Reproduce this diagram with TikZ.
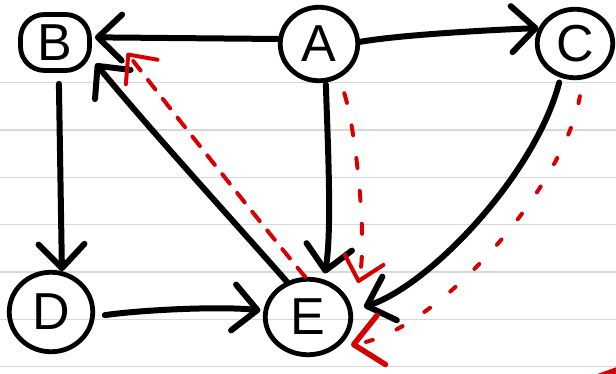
\documentclass[tikz,border=0pt]{standalone}
\usepackage{fontspec}
\setmainfont{Liberation Sans}
\usetikzlibrary{arrows.meta,shapes.geometric}
\definecolor{penRed}{RGB}{213,0,0}
\definecolor{ruleGray}{RGB}{216,216,216}

\begin{document}
\begin{tikzpicture}[x=1pt,y=-1pt,
  ruling/.style={draw=ruleGray,line width=1.6pt},
  vertex/.style={draw,line width=4.8pt,ellipse,inner sep=0pt,
    font=\fontsize{52}{52}\selectfont},
  edge/.style={line width=6pt,line cap=round,line join=round,
    -{Straight Barb[length=24pt,width=46pt,round]}},
  hint/.style={draw=penRed,line width=4pt,line cap=round,
    -{Straight Barb[length=22pt,width=40pt,round]}},
]
\useasboundingbox (0,0) rectangle (616,374);

% lined paper
\foreach \k in {0,...,6}
  \draw[ruling] (0,{82.7+47.33*\k}) -- (616,{82.7+47.33*\k});

% vertices
\node[vertex,rectangle,rounded corners=24pt,minimum width=69pt,minimum height=56pt] (B) at (55,42.5) {B};
\node[vertex,minimum width=77.5pt,minimum height=73.5pt] (A) at (319,44) {A};
\node[vertex,minimum width=75.5pt,minimum height=68.5pt] (C) at (575,43.5) {C};
\node[vertex,minimum width=83.5pt,minimum height=79.5pt] (D) at (51,312) {D};
\node[vertex,minimum width=85.5pt,minimum height=75.5pt] (E) at (308,317) {E};

% black edges
\draw[edge,shorten >=3pt] (A.173) -- (B.8);
\draw[edge] (A.3) .. controls +(40,-7) and +(-50,2) .. (C.157);
\draw[edge,shorten <=2pt,shorten >=6pt] (A.280) .. controls (328,150) and (332,230) .. (E.67);
\draw[edge,shorten >=6pt] (E.121) .. controls (255,245) and (150,130) .. (B.336);
\draw[edge,shorten <=11pt] (B.277) -- (D.75);
\draw[edge,shorten <=10pt,shorten >=3pt] (D.354) .. controls (140,310) and (220,306) .. (E.172);
\draw[edge,shorten <=5pt,shorten >=12pt] (C.247) .. controls (535,175) and (430,285) .. (E.8);

% red dashed edges
\coordinate (tipEB) at (127,53);
\coordinate (tipAE) at (358,283);
\coordinate (tipCE) at (351,345);
\draw[hint,dash pattern=on 12pt off 12pt] (E.94) .. controls (270,235) and (175,115) .. (tipEB);
\draw[hint,dash pattern=on 10pt off 23pt,shorten <=16pt] (A.301) .. controls (356,130) and (368,245) .. (tipAE);
\draw[hint,dash pattern=on 7pt off 26pt,shorten <=17pt,
  -{Straight Barb[length=28pt,width=50pt,round,line width=5.5pt]}]
  (C.282) .. controls (565,185) and (440,330) .. (tipCE);

% stray red stroke at the corner
\draw[penRed,line width=6pt,line cap=round] (598,377) -- (620,369);
\end{tikzpicture}
\end{document}
